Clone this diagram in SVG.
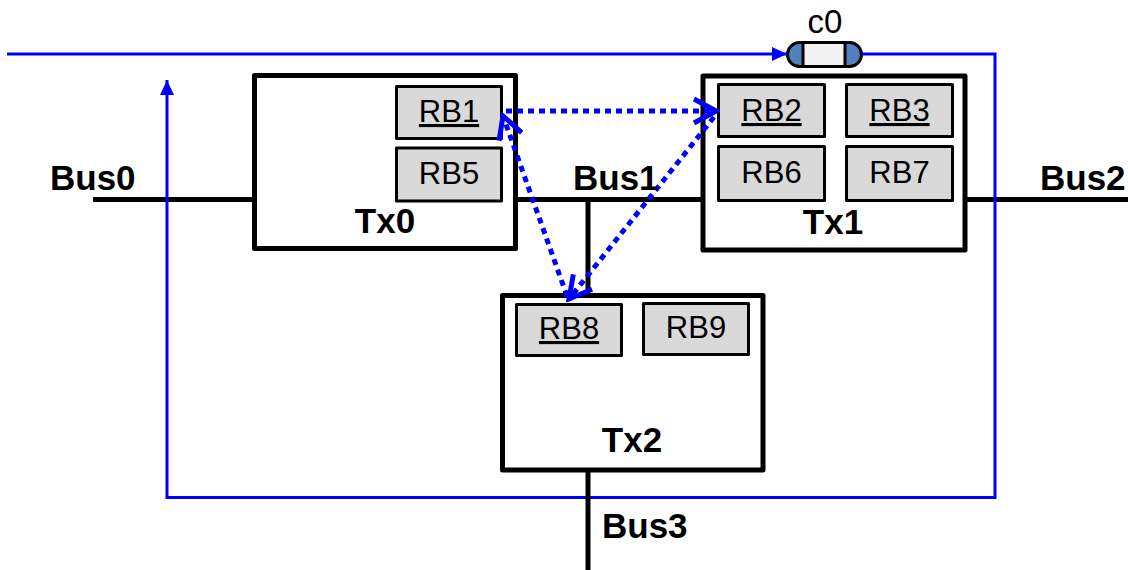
<svg xmlns="http://www.w3.org/2000/svg" width="1128" height="570" viewBox="0 0 1128 570">
  <style>
    .tx { fill: #FFFFFF; stroke: #000000; stroke-width: 5; stroke-linejoin: round; }
    .rb { fill: #D9D9D9; stroke: #000000; stroke-width: 3; stroke-linejoin: round; }
    .bus { stroke: #000000; stroke-width: 5; fill: none; }
    .sig { stroke: #0000FF; stroke-width: 3; fill: none; }
    .dot { stroke: #0000FF; stroke-width: 5; fill: none; stroke-dasharray: 6 5; }
    .lbl { font-family: "Liberation Sans", Arial, sans-serif; font-weight: bold; font-size: 35px; fill: #000000; }
    .rbt { font-family: "Liberation Sans", Arial, sans-serif; font-size: 31px; fill: #000000; text-anchor: middle; }
    .u { text-decoration: underline; }
  </style>
  <defs>
    <marker id="tri" viewBox="0 0 15 14" refX="15" refY="7" markerWidth="15" markerHeight="14" markerUnits="userSpaceOnUse" orient="auto">
      <path d="M0,0 L15,7 L0,14 z" fill="#0000FF"/>
    </marker>
    <marker id="chev" viewBox="-26 -15 30 30" refX="0" refY="0" markerWidth="30" markerHeight="30" markerUnits="userSpaceOnUse" orient="auto">
      <path d="M-22,-12 L0,0 L-22,12" fill="none" stroke="#0000FF" stroke-width="5"/>
    </marker>
  </defs>

  <g id="buses">
    <line class="bus" x1="93" y1="199.5" x2="255" y2="199.5"/>
    <line class="bus" x1="515" y1="199.5" x2="703" y2="199.5"/>
    <line class="bus" x1="588" y1="199.5" x2="588" y2="296"/>
    <line class="bus" x1="965" y1="199.5" x2="1128" y2="199.5"/>
  </g>

  <g id="Tx0">
    <rect class="tx" x="254.5" y="75.5" width="261" height="173"/>
    <rect id="RB1" class="rb" x="396.5" y="86.5" width="105" height="52"/>
    <text class="rbt u" x="449" y="122">RB1</text>
    <rect id="RB5" class="rb" x="396.5" y="148" width="105" height="53"/>
    <text class="rbt" x="449" y="184">RB5</text>
    <text class="lbl" x="385" y="233" text-anchor="middle">Tx0</text>
  </g>

  <g id="Tx1">
    <rect class="tx" x="703" y="76" width="262" height="174"/>
    <rect id="RB2" class="rb" x="718.5" y="84.5" width="106" height="52"/>
    <text class="rbt u" x="771.5" y="121">RB2</text>
    <rect id="RB3" class="rb" x="846.5" y="84.5" width="106" height="52"/>
    <text class="rbt u" x="899.5" y="121">RB3</text>
    <rect id="RB6" class="rb" x="718.5" y="146.5" width="106" height="54"/>
    <text class="rbt" x="771.5" y="183">RB6</text>
    <rect id="RB7" class="rb" x="846.5" y="146.5" width="106" height="54"/>
    <text class="rbt" x="899.5" y="183">RB7</text>
    <text class="lbl" x="833" y="234" text-anchor="middle">Tx1</text>
  </g>

  <g id="Tx2">
    <rect class="tx" x="502.5" y="295.5" width="260.5" height="174.5"/>
    <rect id="RB8" class="rb" x="516.5" y="304.5" width="105" height="51"/>
    <text class="rbt u" x="569" y="339">RB8</text>
    <rect id="RB9" class="rb" x="643.5" y="303.5" width="105" height="51"/>
    <text class="rbt" x="696" y="338">RB9</text>
    <text class="lbl" x="632" y="452" text-anchor="middle">Tx2</text>
  </g>

  <g id="c0">
    <rect x="787.5" y="42.5" width="74" height="24" rx="12" ry="12" fill="#4F81BD"/>
    <rect x="803" y="42.5" width="42" height="24" fill="#F2F2F2"/>
    <line x1="803" y1="42.5" x2="803" y2="66.5" stroke="#000000" stroke-width="3"/>
    <line x1="845" y1="42.5" x2="845" y2="66.5" stroke="#000000" stroke-width="3"/>
    <rect x="787.5" y="42.5" width="74" height="24" rx="12" ry="12" fill="none" stroke="#000000" stroke-width="3"/>
    <text x="825" y="33" text-anchor="middle" font-family="Liberation Sans, Arial, sans-serif" font-size="33" fill="#000000">c0</text>
  </g>

  <g id="connectors">
    <path class="sig" d="M7,54 L787,54" marker-end="url(#tri)"/>
    <path class="sig" d="M862,54 L995,54 L995,497.5 L167,497.5 L167,80" marker-end="url(#tri)"/>
    <line class="dot" x1="506" y1="111" x2="716" y2="111" marker-end="url(#chev)"/>
    <line class="dot" x1="567" y1="296" x2="503" y2="116" marker-end="url(#chev)"/>
    <line class="dot" x1="714" y1="117" x2="569" y2="299" marker-end="url(#chev)"/>
  </g>

  <g id="Bus3">
    <line class="bus" x1="588" y1="470" x2="588" y2="570"/>
  </g>

  <g id="labels">
    <text class="lbl" x="50" y="190">Bus0</text>
    <text class="lbl" x="573" y="190">Bus1</text>
    <text class="lbl" x="1040" y="190">Bus2</text>
    <text class="lbl" x="602" y="538">Bus3</text>
  </g>
</svg>
